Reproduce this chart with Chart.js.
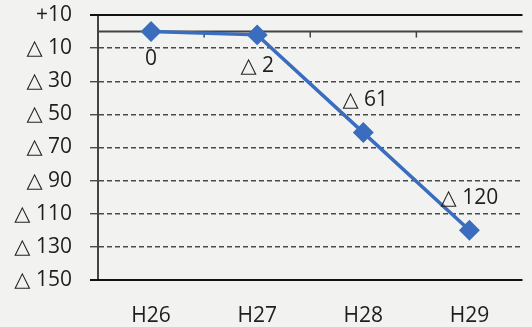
<!DOCTYPE html>
<html>
<head>
<meta charset="utf-8">
<script src="https://cdn.jsdelivr.net/npm/chart.js@4.4.1/dist/chart.umd.min.js"></script>
<style>
  html, body { margin: 0; padding: 0; background: #f2f2f1; overflow: hidden; }
  #wrap { width: 534px; height: 327px; }
</style>
</head>
<body>
<div id="wrap"><canvas id="chart"></canvas></div>
<script>
// Data
const categories = ['H26', 'H27', 'H28', 'H29'];
const values = [0, -2, -61, -120];
const yTicks = [10, -10, -30, -50, -70, -90, -110, -130, -150];

// label offsets (px) relative to each point
const labelOffsets = [[0, 27], [0, 31], [2, -33], [0, -32]];

const FONT = "'Open Sans', 'DejaVu Sans', sans-serif";
const TEXT = '#1e1e1e';
const BLUE = '#3b6dbf';

function fmt(v) {
    if (v > 0) return '+' + v;
    if (v === 0) return '0';
    return '△ ' + (-v);
}

// solid frame lines + zero line with category ticks
const framePlugin = {
    id: 'frame',
    beforeDatasetsDraw(chart) {
        const { ctx, chartArea, scales } = chart;
        const y = scales.y, x = scales.x;
        ctx.save();
        ctx.strokeStyle = '#111';
        ctx.lineWidth = 2;
        [10, -150].forEach(v => {
            const py = y.getPixelForValue(v);
            ctx.beginPath();
            ctx.moveTo(chartArea.left - 8, py);
            ctx.lineTo(chartArea.right, py);
            ctx.stroke();
        });
        const zy = y.getPixelForValue(0);
        ctx.strokeStyle = '#444';
        ctx.lineWidth = 2;
        ctx.beginPath();
        ctx.moveTo(chartArea.left, zy);
        ctx.lineTo(chartArea.right, zy);
        ctx.stroke();
        ctx.lineWidth = 1.5;
        for (let i = 1; i < categories.length; i++) {
            const px = (x.getPixelForValue(i - 1) + x.getPixelForValue(i)) / 2;
            ctx.beginPath();
            ctx.moveTo(px, zy);
            ctx.lineTo(px, zy + 6);
            ctx.stroke();
        }
        ctx.restore();
    }
};

// value labels
const labelPlugin = {
    id: 'valueLabels',
    afterDatasetsDraw(chart) {
        const { ctx } = chart;
        const meta = chart.getDatasetMeta(0);
        ctx.save();
        ctx.font = '21px ' + FONT;
        ctx.fillStyle = TEXT;
        ctx.textAlign = 'center';
        ctx.textBaseline = 'middle';
        meta.data.forEach((pt, i) => {
            const [dx, dy] = labelOffsets[i];
            ctx.fillText(fmt(values[i]), pt.x + dx, pt.y + dy);
        });
        ctx.restore();
    }
};

new Chart(document.getElementById('chart'), {
    type: 'line',
    data: {
        labels: categories,
        datasets: [{
            data: values,
            borderColor: BLUE,
            backgroundColor: BLUE,
            borderWidth: 3.5,
            pointStyle: 'rectRot',
            pointRadius: 8,
            pointHoverRadius: 8,
            tension: 0
        }]
    },
    options: {
        responsive: true,
        maintainAspectRatio: false,
        animation: false,
        layout: { padding: { top: 15, right: 0, bottom: 0, left: 0 } },
        plugins: { legend: { display: false }, tooltip: { enabled: false } },
        scales: {
            x: {
                offset: true,
                grid: { display: false },
                border: { display: false },
                afterFit: s => { s.height = 47; s.paddingLeft = 0; s.paddingRight = 0; },
                ticks: { color: TEXT, font: { family: FONT, size: 21 }, padding: 15 }
            },
            y: {
                min: -150,
                max: 10,
                afterBuildTicks: s => { s.ticks = yTicks.map(v => ({ value: v })); },
                afterFit: s => { s.width = 98; s.paddingTop = 0; s.paddingBottom = 0; },
                grid: {
                    color: c => (c.tick && (c.tick.value === 10 || c.tick.value === -150)) ? 'rgba(0,0,0,0)' : '#4a4a4a',
                    tickColor: '#4a4a4a',
                    tickLength: 8,
                    lineWidth: 1.4
                },
                border: { display: true, color: '#444', width: 2, dash: [5, 3] },
                ticks: {
                    color: TEXT,
                    font: { family: FONT, size: 21 },
                    padding: 18,
                    callback: v => fmt(v)
                }
            }
        }
    },
    plugins: [framePlugin, labelPlugin]
});
</script>
</body>
</html>
